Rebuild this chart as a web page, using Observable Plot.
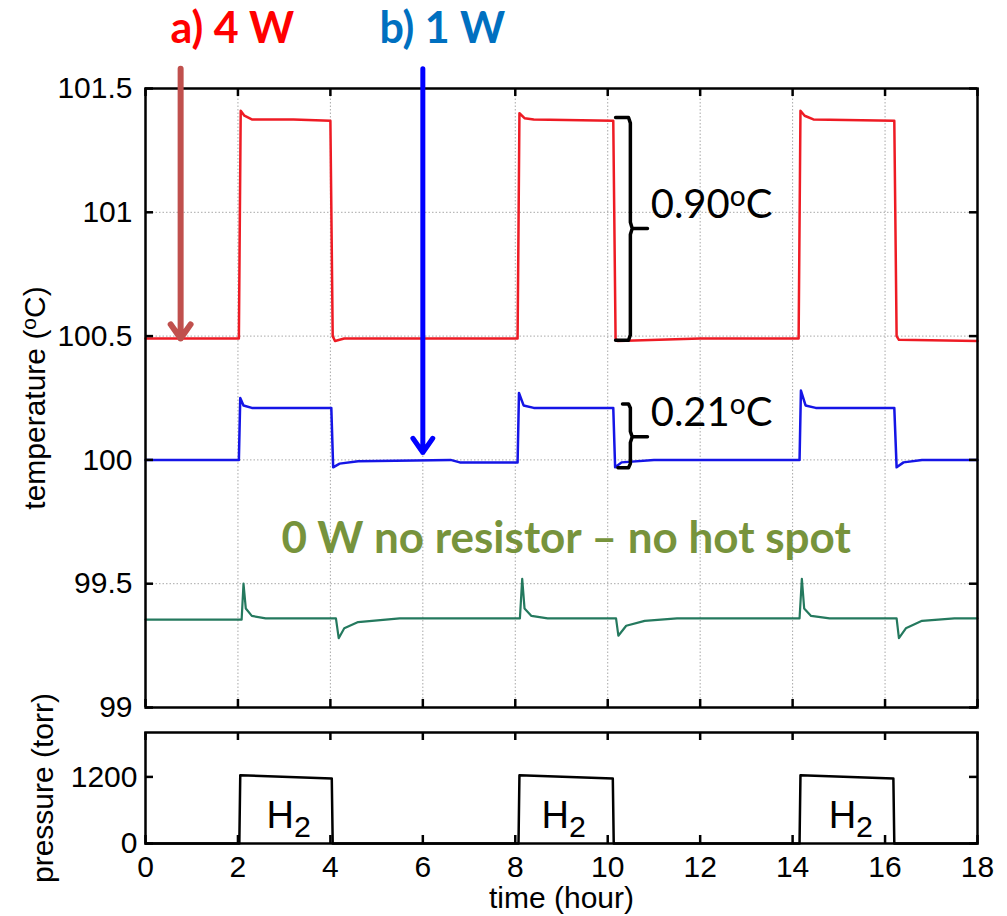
<!DOCTYPE html>
<html><head><meta charset="utf-8">
<script src="https://cdn.jsdelivr.net/npm/d3@7"></script>
<script src="https://cdn.jsdelivr.net/npm/@observablehq/plot@0.6"></script>
<style>
body{margin:0;background:#fff}
#wrap{position:relative;width:1007px;height:916px;overflow:hidden}
#wrap svg{position:absolute;left:0;overflow:visible}
</style></head>
<body><div id="wrap"></div>
<script>
// ---- axes / ticks ----
const xTicks = [0, 2, 4, 6, 8, 10, 12, 14, 16, 18];
const tempTicks = [99, 99.5, 100, 100.5, 101, 101.5];
const presTicks = [0, 1200];

// ---- series: [time (hour), value] ----
const red4W = [[0,100.49],[1.0,100.49],[2.02,100.49],[2.06,101.41],[2.14,101.39],[2.3,101.375],[3.2,101.375],[4.0,101.37],[4.05,100.5],[4.1,100.48],[4.3,100.49],[6,100.49],[8.05,100.49],[8.09,101.4],[8.2,101.38],[8.4,101.375],[10.12,101.37],[10.17,100.49],[10.22,100.48],[12,100.49],[14.13,100.49],[14.17,101.41],[14.26,101.39],[14.45,101.375],[16.2,101.37],[16.25,100.5],[16.3,100.485],[18,100.48]];
const blue1W = [[0,100.0],[2.02,100.0],[2.05,100.25],[2.12,100.22],[2.3,100.21],[4.02,100.21],[4.06,99.97],[4.2,99.985],[4.6,99.995],[6.6,100.0],[6.8,99.99],[8.05,99.99],[8.08,100.27],[8.18,100.22],[8.4,100.21],[10.12,100.21],[10.16,99.97],[10.3,99.99],[11,100.0],[14.15,100.0],[14.18,100.28],[14.28,100.22],[14.5,100.21],[16.2,100.21],[16.25,99.97],[16.4,99.99],[16.8,100.0],[18,100.0]];
const green0W = [[0,99.355],[2.08,99.355],[2.12,99.5],[2.17,99.4],[2.3,99.37],[2.6,99.36],[4.12,99.36],[4.18,99.28],[4.3,99.32],[4.6,99.345],[5.5,99.36],[8.1,99.36],[8.15,99.52],[8.2,99.4],[8.35,99.37],[8.7,99.36],[10.18,99.36],[10.23,99.29],[10.4,99.33],[10.8,99.35],[11.5,99.36],[14.15,99.36],[14.2,99.52],[14.25,99.4],[14.4,99.37],[14.8,99.36],[16.25,99.36],[16.3,99.28],[16.45,99.32],[16.8,99.35],[17.5,99.36],[18,99.36]];
const pressure = [[0,0],[2.03,0],[2.05,1230],[4.03,1170],[4.05,0],[8.07,0],[8.09,1230],[10.11,1170],[10.13,0],[14.15,0],[14.17,1230],[16.18,1170],[16.2,0],[18,0]];

// ---- annotations ----
const powerLabels = [{t:0.54, v:101.682, text:"a) 4 W", color:"#FF0000"}, {t:5.06, v:101.682, text:"b) 1 W", color:"#0070C0"}];
const arrows = [{t:0.76, from:101.58, to:100.49, color:"#C0504D", w:6}, {t:6.0, from:101.58, to:100.03, color:"#0000FF", w:5}];
const bigBracket = [[10.17,101.383],[10.45,101.383],[10.49,101.36],[10.49,100.96],[10.53,100.935],[10.86,100.935],[10.53,100.935],[10.49,100.91],[10.49,100.505],[10.45,100.483],[10.17,100.483]];
const smallBracket = [[10.32,100.226],[10.45,100.226],[10.49,100.21],[10.49,100.115],[10.53,100.093],[10.86,100.093],[10.53,100.093],[10.49,100.07],[10.49,99.985],[10.45,99.968],[10.22,99.968]];
const deltaLabels = [{t:10.93, v:100.975, text:"0.90°C"}, {t:10.93, v:100.135, text:"0.21°C"}];
const zeroLabel = [{t:2.94, v:99.623, text:"0 W no resistor – no hot spot"}];
const h2Labels = [{t:2.62, p:288}, {t:8.57, p:288}, {t:14.78, p:288}];

const tickFont = "Liberation Sans, Arial, sans-serif";
const annFont = "Lato, 'Open Sans', sans-serif";
const fmt = d => String(d);
const gridStyle = {stroke: "#a8a8a8", strokeOpacity: 1, strokeDasharray: "1.5,2"};
const tickStyle = {stroke: "#000", strokeWidth: 2.5};

const upper = Plot.plot({
  width: 1007, height: 720,
  marginLeft: 145, marginRight: 30, marginTop: 88, marginBottom: 13,
  style: {fontFamily: tickFont, fontSize: "30px", background: "transparent", overflow: "visible", color: "#000"},
  x: {domain: [0, 18], axis: null},
  y: {domain: [99, 101.5], axis: null},
  marks: [
    Plot.gridX(xTicks, gridStyle),
    Plot.gridY(tempTicks, gridStyle),
    Plot.axisY(tempTicks, {tickSize: 0, tickPadding: 13, tickFormat: fmt, label: null, fontSize: 30}),
    Plot.text(["temperature (°C)"], {frameAnchor: "left", dx: -110, rotate: -90, textAnchor: "middle", text: d => d, fontSize: 30}),
    Plot.line(green0W, {x: d => d[0], y: d => d[1], stroke: "#24795E", strokeWidth: 2.2}),
    Plot.line(blue1W, {x: d => d[0], y: d => d[1], stroke: "#1515E6", strokeWidth: 2.5}),
    Plot.line(red4W, {x: d => d[0], y: d => d[1], stroke: "#EE1B24", strokeWidth: 2.5}),
    Plot.frame({stroke: "#000", strokeWidth: 2.5}),
    Plot.ruleX(xTicks, {x: d => d, y1: 99, y2: 99, insetTop: -8, ...tickStyle}),
    Plot.ruleX(xTicks, {x: d => d, y1: 101.5, y2: 101.5, insetBottom: -8, ...tickStyle}),
    Plot.ruleY(tempTicks, {y: d => d, x1: 0, x2: 0, insetRight: -8, ...tickStyle}),
    Plot.ruleY(tempTicks, {y: d => d, x1: 18, x2: 18, insetLeft: -8, ...tickStyle}),
    Plot.line(bigBracket, {x: d => d[0], y: d => d[1], stroke: "#000", strokeWidth: 3.5, strokeLinejoin: "round"}),
    Plot.line(smallBracket, {x: d => d[0], y: d => d[1], stroke: "#000", strokeWidth: 3.5, strokeLinejoin: "round"}),
    Plot.arrow(arrows, {x1: "t", x2: "t", y1: "from", y2: "to", stroke: "color", strokeWidth: "w", headLength: 26, headAngle: 70}),
    Plot.text(powerLabels, {x: "t", y: "v", text: "text", fill: "color", textAnchor: "start", lineAnchor: "bottom", fontFamily: annFont, fontWeight: "bold", fontSize: 43}),
    Plot.text(deltaLabels, {x: "t", y: "v", text: "text", fill: "#000", textAnchor: "start", lineAnchor: "bottom", fontFamily: annFont, fontSize: 40}),
    Plot.text(zeroLabel, {x: "t", y: "v", text: "text", fill: "#77933C", textAnchor: "start", lineAnchor: "bottom", fontFamily: annFont, fontWeight: "bold", fontSize: 44})
  ]
});
upper.style.top = "0px";

const lower = Plot.plot({
  width: 1007, height: 196,
  marginLeft: 145, marginRight: 30, marginTop: 12, marginBottom: 73,
  style: {fontFamily: tickFont, fontSize: "30px", background: "transparent", overflow: "visible", color: "#000"},
  x: {domain: [0, 18], axis: null},
  y: {domain: [0, 2000], axis: null},
  marks: [
    Plot.axisX(xTicks, {tickSize: 0, tickPadding: 12, tickFormat: fmt, label: null, fontSize: 30}),
    Plot.axisY(presTicks, {tickSize: 0, tickPadding: 8, tickFormat: fmt, label: null, fontSize: 30}),
    Plot.text(["pressure (torr)"], {frameAnchor: "left", dx: -102, rotate: -90, textAnchor: "middle", text: d => d, fontSize: 30}),
    Plot.text(["time (hour)"], {frameAnchor: "bottom", dy: 64, lineAnchor: "bottom", text: d => d, fontSize: 30}),
    Plot.line(pressure, {x: d => d[0], y: d => d[1], stroke: "#000", strokeWidth: 2.5}),
    Plot.frame({stroke: "#000", strokeWidth: 2.5}),
    Plot.ruleX(xTicks, {x: d => d, y1: 0, y2: 0, insetTop: -8, ...tickStyle}),
    Plot.ruleX(xTicks, {x: d => d, y1: 2000, y2: 2000, insetBottom: -8, ...tickStyle}),
    Plot.ruleY(presTicks, {y: d => d, x1: 0, x2: 0, insetRight: -8, ...tickStyle}),
    Plot.ruleY(presTicks, {y: d => d, x1: 18, x2: 18, insetLeft: -8, ...tickStyle}),
    Plot.text(h2Labels, {x: "t", y: "p", text: () => "H2", textAnchor: "start", lineAnchor: "bottom", fontFamily: tickFont, fontSize: 38, fill: "#000"})
  ]
});
lower.style.top = "720px";

const wrap = document.getElementById("wrap");
wrap.append(upper, lower);

// superscript "o" in °C and subscript 2 in H2
function richText(svg) {
  d3.select(svg).selectAll("text").each(function () {
    const el = d3.select(this);
    const target = this.querySelector("tspan") ? d3.select(this.querySelector("tspan")) : el;
    const s = this.textContent;
    if (s.includes("°C")) {
      const [a, b] = s.split("°C");
      target.text(null);
      target.append("tspan").text(a);
      target.append("tspan").attr("dy", "-0.45em").attr("font-size", "0.7em").text("o");
      target.append("tspan").attr("dy", "0.315em").text("C" + b);
    } else if (s === "H2") {
      target.text(null);
      target.append("tspan").text("H");
      target.append("tspan").attr("dy", "0.3em").attr("font-size", "0.8em").text("2");
    }
  });
}
richText(upper);
richText(lower);
</script>
</body></html>
